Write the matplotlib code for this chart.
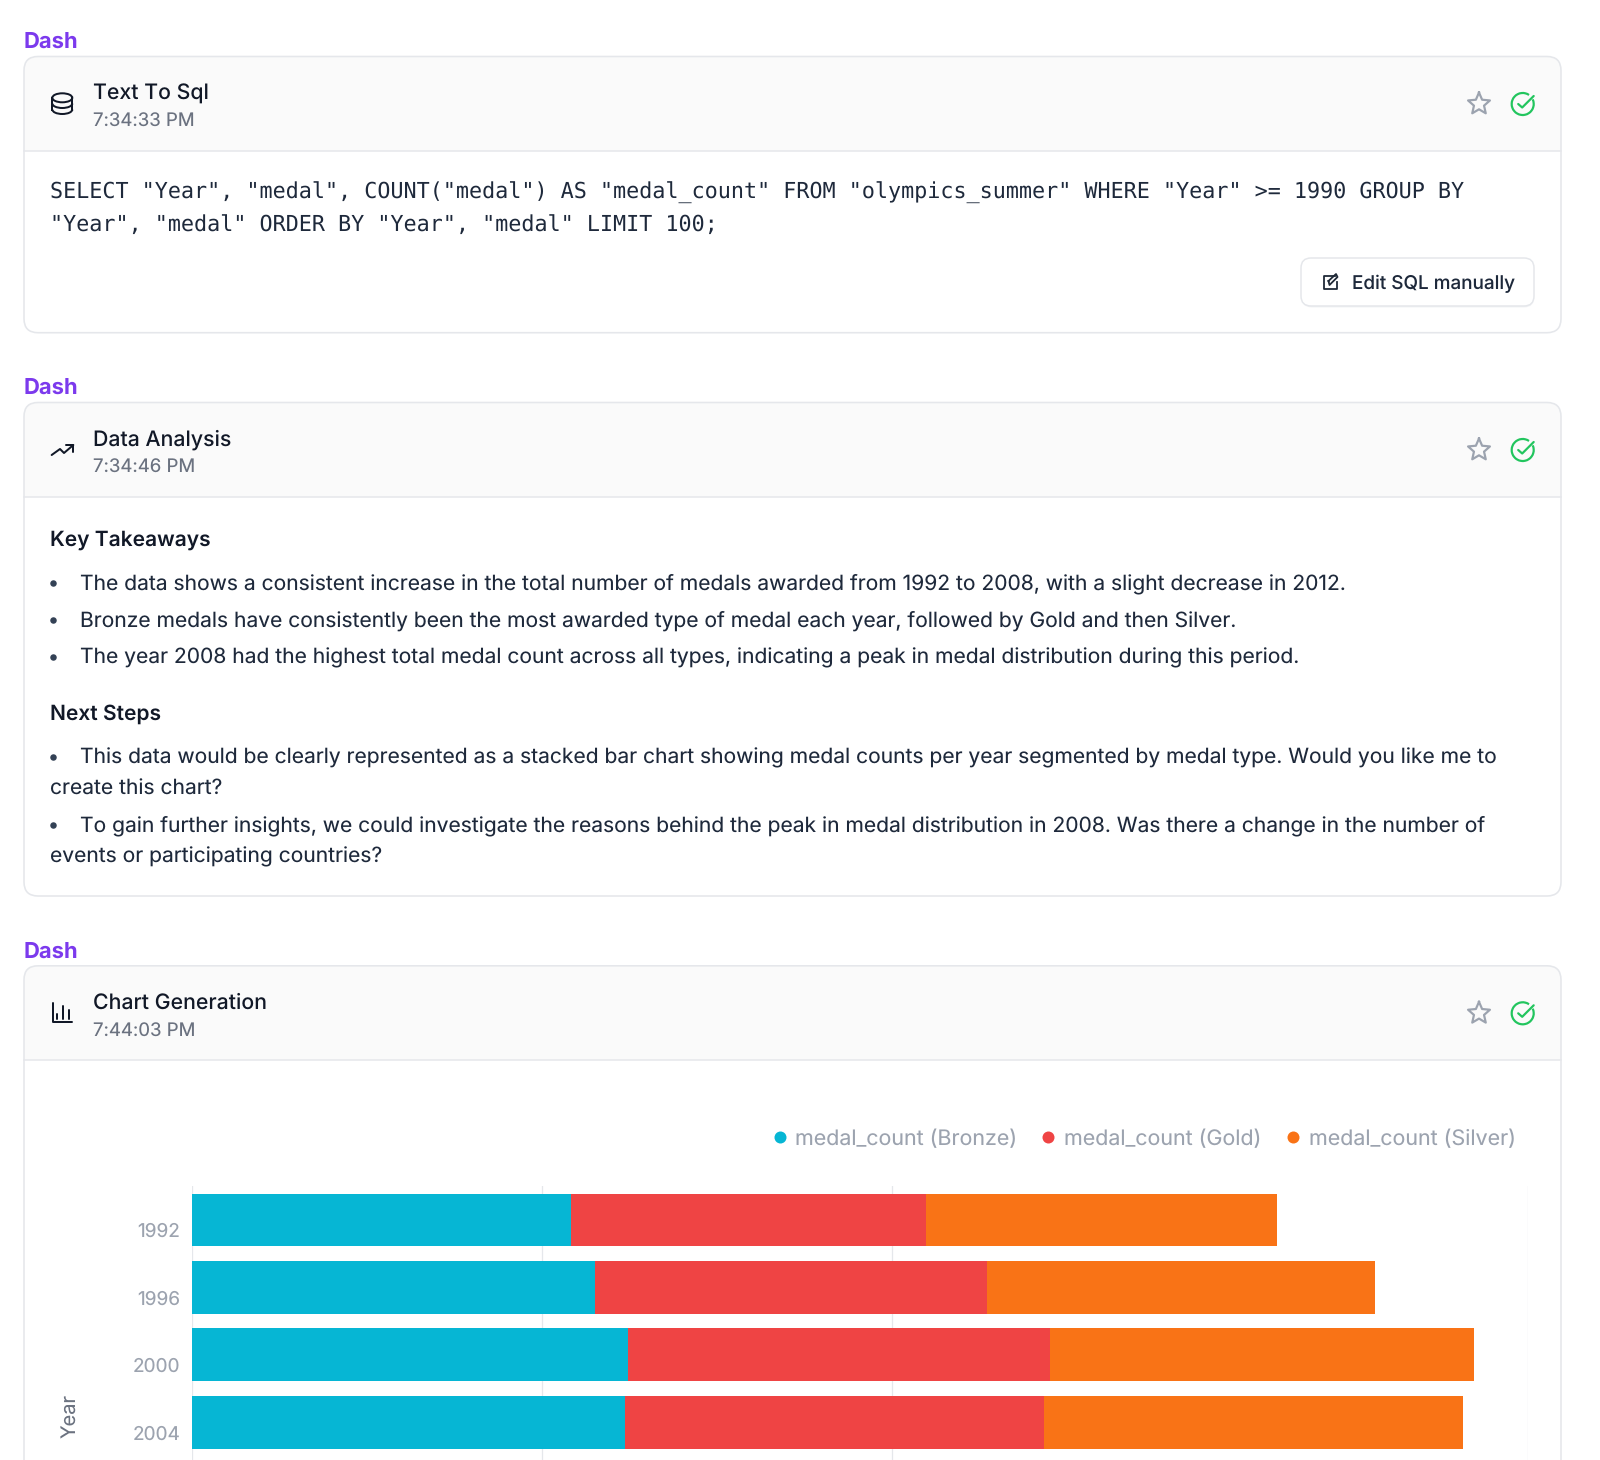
import numpy as np
import matplotlib
matplotlib.use('Agg')
import matplotlib.pyplot as plt
from matplotlib.patches import FancyBboxPatch, Rectangle, Arc, Ellipse
from matplotlib.transforms import ScaledTranslation

plt.rcParams['font.family'] = ['Inter', 'DejaVu Sans']
plt.rcParams['text.hinting'] = 'none'

# chart data
years = ['1992', '1996', '2000', '2004']
medal_names = ['medal_count (Bronze)', 'medal_count (Gold)', 'medal_count (Silver)']
bronze = [542, 576, 623, 618]
gold = [507, 560, 603, 599]
silver = [501, 554, 606, 599]
x_ticks = [0, 500, 1000, 1909]

# page text
sql_lines = ['SELECT "Year", "medal", COUNT("medal") AS "medal_count" FROM "olympics_summer" WHERE "Year" >= 1990 GROUP BY',
             '"Year", "medal" ORDER BY "Year", "medal" LIMIT 100;']
card_titles = ['Text To Sql', 'Data Analysis', 'Chart Generation']
card_times = ['7:34:33 PM', '7:34:46 PM', '7:44:03 PM']
takeaways = ['The data shows a consistent increase in the total number of medals awarded from 1992 to 2008, with a slight decrease in 2012.',
             'Bronze medals have consistently been the most awarded type of medal each year, followed by Gold and then Silver.',
             'The year 2008 had the highest total medal count across all types, indicating a peak in medal distribution during this period.']
next_steps = [('This data would be clearly represented as a stacked bar chart showing medal counts per year segmented by medal type. Would you like me to',
               'create this chart?'),
              ('To gain further insights, we could investigate the reasons behind the peak in medal distribution in 2008. Was there a change in the number of',
               'events or participating countries?')]

GRAY_BORDER = '#e5e7eb'
INK = '#111827'
BODY = '#1e293b'
SERIES_COLORS = ['#06b6d4', '#ef4444', '#f97316']


def px(size):
    return size * 0.72


fig = plt.figure(figsize=(16, 14.6), dpi=100, facecolor='white')
ui = fig.add_axes([0, 0, 1, 1])
ui.set_xlim(0, 1600)
ui.set_ylim(1460, 0)
ui.axis('off')


def draw_card(top, bottom, header_bottom):
    card = FancyBboxPatch((24, top), 1537, bottom - top, boxstyle='round,pad=0,rounding_size=14',
                          fc='white', ec='none', zorder=1)
    ui.add_patch(card)
    head = Rectangle((24, top), 1537, header_bottom - top, fc='#fafafa', ec='none', zorder=1.1)
    ui.add_patch(head)
    head.set_clip_path(card)
    ui.plot([24, 1561], [header_bottom, header_bottom], color=GRAY_BORDER, lw=px(1.5), zorder=1.2)
    ui.add_patch(FancyBboxPatch((24, top), 1537, bottom - top, boxstyle='round,pad=0,rounding_size=14',
                                fc='none', ec=GRAY_BORDER, lw=px(1.6), zorder=1.3))


def draw_star(cx, cy):
    ang = np.deg2rad(np.arange(-90, 270, 36))
    rad = np.where(np.arange(10) % 2 == 0, 11.5, 5.3)
    xs = cx + rad * np.cos(ang)
    ys = cy + rad * np.sin(ang)
    ui.plot(np.r_[xs, xs[0]], np.r_[ys, ys[0]], color='#9ca3af', lw=px(2.2), solid_joinstyle='round', zorder=3)


def draw_check(cx, cy):
    ui.add_patch(Arc((cx, cy), 22, 22, theta1=-25, theta2=305, color='#22c55e', lw=px(2.2), zorder=3))
    ui.plot([cx - 4.5, cx - 0.5, cx + 11], [cy, cy + 3.5, cy - 8], color='#22c55e', lw=px(2.2),
            solid_capstyle='round', solid_joinstyle='round', zorder=3)


def icon_line(xs, ys, base_x, base_y):
    ui.plot(base_x + np.array(xs) / 3, base_y + np.array(ys) / 3, color=INK, lw=px(2),
            solid_capstyle='round', solid_joinstyle='round', zorder=3)


card_tops = [56.5, 402.5, 965.8]
card_bottoms = [332.7, 896, 1600]
for i, top in enumerate(card_tops):
    off = top - card_tops[0]
    draw_card(top, card_bottoms[i], 151 + off)
    ui.text(23.5, 48 + off, 'Dash', fontsize=px(22), fontweight='bold', color='#7c3aed', va='baseline')
    ui.text(93, 99.2 + off, card_titles[i], fontsize=px(21.3), fontweight='medium', color=INK, va='baseline', zorder=4)
    ui.text(93, 126.2 + off, card_times[i], fontsize=px(18.6), color='#6b7280', va='baseline', zorder=4)
    draw_star(1479, 104 + off)
    draw_check(1522.7, 104 + off)

# database icon
ui.add_patch(Ellipse((62.3, 97.8), 20, 9, fc='none', ec=INK, lw=px(2), zorder=3))
ui.plot([52.3, 52.3], [97.8, 109.5], color=INK, lw=px(2), zorder=3)
ui.plot([72.3, 72.3], [97.8, 109.5], color=INK, lw=px(2), zorder=3)
ui.add_patch(Arc((62.3, 109.5), 20, 9, theta1=0, theta2=180, color=INK, lw=px(2), zorder=3))
ui.add_patch(Arc((62.3, 103.5), 20, 9, theta1=0, theta2=180, color=INK, lw=px(2), zorder=3))

# trending icon
icon_line([35, 60, 72, 100], [90, 72, 84, 60], 40, 425)
icon_line([78, 100, 100], [60, 60, 80], 40, 425)

# bar chart icon
icon_line([38, 38, 97], [55, 112, 112], 40, 985)
for bx, by in zip([52, 70, 86], [88, 62, 75]):
    icon_line([bx, bx], [by, 102], 40, 985)

# sql card
for line, y in zip(sql_lines, [198.6, 230.7]):
    ui.text(50, y, line, family='DejaVu Sans Mono', fontsize=px(21.72), color=BODY, va='baseline', zorder=4)

ui.add_patch(FancyBboxPatch((1302, 259.5), 232, 48, boxstyle='round,pad=0,rounding_size=10',
                            fc='#f3f4f6', ec='none', zorder=2))
ui.add_patch(FancyBboxPatch((1301, 258), 233, 48, boxstyle='round,pad=0,rounding_size=10',
                            fc='white', ec=GRAY_BORDER, lw=px(1.5), zorder=2.1))
ui.plot([1334.5, 1323.5, 1323.5, 1336.5, 1336.5], [276, 276, 289, 289, 282], color='#1f2937', lw=px(1.8),
        solid_joinstyle='round', zorder=3)
ui.plot([1328.5, 1329.5, 1337.5, 1336, 1328.5], [281, 285, 277, 274, 281], color='#1f2937', lw=px(1.8),
        solid_joinstyle='round', zorder=3)
ui.text(1351.7, 289.3, 'Edit SQL manually', fontsize=px(18.9), fontweight='medium', color=BODY, va='baseline', zorder=4)

# analysis card
ui.text(50, 546, 'Key Takeaways', fontsize=px(21), fontweight='semibold', color=INK, va='baseline', zorder=4)
for line, y in zip(takeaways, [589.3, 626.7, 663.7]):
    ui.plot([53], [y - 6.5], 'o', ms=px(6.5), color='#334155', mec='none', zorder=4)
    ui.text(79.5, y, line, fontsize=px(21.05), color=BODY, va='baseline', zorder=4)
ui.text(50, 720, 'Next Steps', fontsize=px(21), fontweight='semibold', color=INK, va='baseline', zorder=4)
for (first, second), y, y2 in zip(next_steps, [763.3, 831.7], [794.3, 862.7]):
    ui.plot([53], [y - 6.5], 'o', ms=px(6.5), color='#334155', mec='none', zorder=4)
    ui.text(79.5, y, first, fontsize=px(21.05), color=BODY, va='baseline', zorder=4)
    ui.text(50, y2, second, fontsize=px(21.05), color=BODY, va='baseline', zorder=4)

# legend
for name, color, dot_x, text_x in zip(medal_names, SERIES_COLORS, [779.6, 1048, 1293.4], [795, 1063.8, 1309]):
    ui.plot([dot_x], [1137.3], 'o', ms=px(12), color=color, mec='none', zorder=4)
    ui.text(text_x, 1145, name, fontsize=px(21.4), color='#9ca3af', va='baseline', zorder=4)

# bars
ax = fig.add_axes([192.2 / 1600, 0, (1528 - 192.2) / 1600, (1460 - 1186.25) / 1460])
ax.patch.set_alpha(0)
pos = np.arange(len(years))
left = np.zeros(len(years))
for vals, color in zip([bronze, gold, silver], SERIES_COLORS):
    ax.barh(pos, vals, left=left, height=0.785, color=color, zorder=3)
    left = left + np.array(vals)
ax.set_xlim(x_ticks[0], x_ticks[-1])
ax.set_ylim(3.556, -0.5)
for s in ax.spines.values():
    s.set_visible(False)
ax.set_xticks(x_ticks)
ax.set_xticklabels([])
ax.grid(axis='x', color=GRAY_BORDER, lw=px(1.3))
ax.set_axisbelow(True)
ax.set_yticks(pos)
ax.set_yticklabels(years)
ax.tick_params(length=0)
ax.tick_params(axis='y', pad=px(12), labelsize=px(19), labelcolor='#9ca3af')
shift = ScaledTranslation(0, -10 / 100, fig.dpi_scale_trans)
for label in ax.get_yticklabels():
    label.set_transform(label.get_transform() + shift)

ui.text(70, 1416, 'Year', rotation=90, fontsize=px(20), color='#6b7280', ha='center', va='center', zorder=4)

fig.savefig('out.png', dpi=100)
